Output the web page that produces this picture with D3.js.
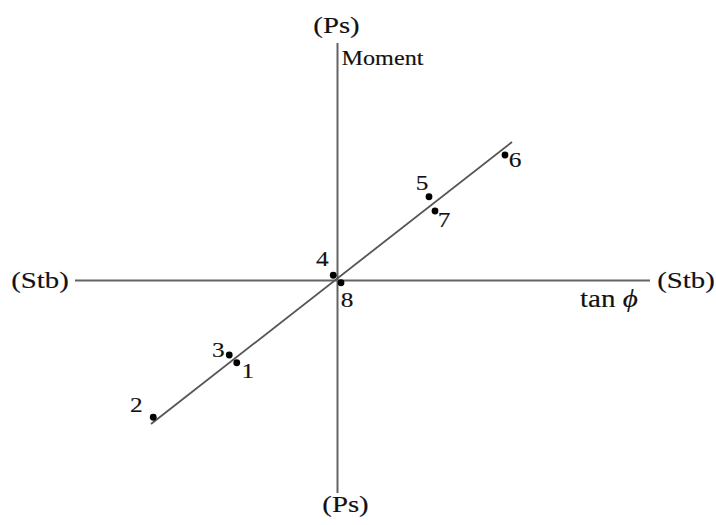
<!DOCTYPE html>
<html>
<head>
<meta charset="utf-8">
<script src="https://cdn.jsdelivr.net/npm/d3@7"></script>
<style>
  html, body { margin: 0; padding: 0; background: #fff; }
  svg { display: block; }
  text { font-family: "Liberation Serif", "DejaVu Serif", "Times New Roman", serif; fill: #111; stroke: #111; stroke-width: 0.15px; }
</style>
</head>
<body>
<svg id="chart" width="716" height="525"></svg>
<script>
// Ship numbers and their (tan φ, moment) readings
const shipLabels = ["1", "2", "3", "4", "5", "6", "7", "8"];
const tanPhi     = [-4.03, -7.37, -4.33, -0.17, 3.66, 6.70, 3.90, 0.14];
const moment     = [-3.29, -5.47, -2.98, 0.21, 3.35, 5.02, 2.78, -0.09];

// Ends of the fitted straight line
const fitTan    = [-7.46, 6.98];
const fitMoment = [-5.74, 5.54];

// Axis extents and end captions
const axisTan    = [-10.5, 12.5];
const axisMoment = [-8.5, 9.5];
const captionTop = "(Ps)", captionBottom = "(Ps)";
const captionLeft = "(Stb)", captionRight = "(Stb)";
const momentTitle = "Moment";

const svg = d3.select("#chart");

const x = d3.scaleLinear().domain(axisTan).range([75, 650]);
const y = d3.scaleLinear().domain(axisMoment).range([493, 43]);

const axisColor = "#646464";

// Horizontal (tan φ) axis
svg.append("line")
  .attr("x1", x(axisTan[0])).attr("x2", x(axisTan[1]))
  .attr("y1", y(0)).attr("y2", y(0))
  .attr("stroke", axisColor).attr("stroke-width", 2);

// Vertical (moment) axis
svg.append("line")
  .attr("x1", x(0)).attr("x2", x(0))
  .attr("y1", y(axisMoment[0])).attr("y2", y(axisMoment[1]))
  .attr("stroke", axisColor).attr("stroke-width", 2);

// Fitted line
const fit = fitTan.map((t, i) => [t, fitMoment[i]]);
svg.append("path")
  .datum(fit)
  .attr("d", d3.line().x(d => x(d[0])).y(d => y(d[1])))
  .attr("fill", "none")
  .attr("stroke", "#555")
  .attr("stroke-width", 1.8);

// Points
const pts = shipLabels.map((s, i) => ({ s, t: tanPhi[i], m: moment[i] }));
svg.selectAll("circle.pt")
  .data(pts)
  .join("circle")
  .attr("class", "pt")
  .attr("cx", d => x(d.t))
  .attr("cy", d => y(d.m))
  .attr("r", 3.4)
  .attr("fill", "#000");

// Label placement around each point (centre x, baseline y)
const labelOffset = {
  "1": [11, 15], "2": [-17, -5], "3": [-11, 2], "4": [-11, -9],
  "5": [-7, -7], "6": [10, 12], "7": [9, 16], "8": [6, 24]
};

function stretchedText(sel, px, py, sx) {
  return sel.attr("transform", `translate(${px},${py}) scale(${sx},1)`);
}

pts.forEach(d => {
  const [dx, dy] = labelOffset[d.s];
  stretchedText(svg.append("text"), x(d.t) + dx, y(d.m) + dy, 1.15)
    .attr("text-anchor", "middle")
    .attr("font-size", 22)
    .text(d.s);
});

// Axis captions
stretchedText(svg.append("text"), x(0) - 1, 33, 1.2)
  .attr("text-anchor", "middle").attr("font-size", 24).text(captionTop);
stretchedText(svg.append("text"), x(0) + 8, 512, 1.2)
  .attr("text-anchor", "middle").attr("font-size", 24).text(captionBottom);
stretchedText(svg.append("text"), 40, 288, 1.2)
  .attr("text-anchor", "middle").attr("font-size", 24).text(captionLeft);
stretchedText(svg.append("text"), 686, 288, 1.2)
  .attr("text-anchor", "middle").attr("font-size", 24).text(captionRight);

stretchedText(svg.append("text"), x(0) + 4, 65, 1.1)
  .attr("font-size", 22).text(momentTitle);

// tan φ label on the horizontal axis
const tl = stretchedText(svg.append("text"), 580, 307, 1.12)
  .attr("font-size", 26);
tl.append("tspan").text("tan ");
tl.append("tspan").attr("font-style", "italic").text("ϕ");
</script>
</body>
</html>
